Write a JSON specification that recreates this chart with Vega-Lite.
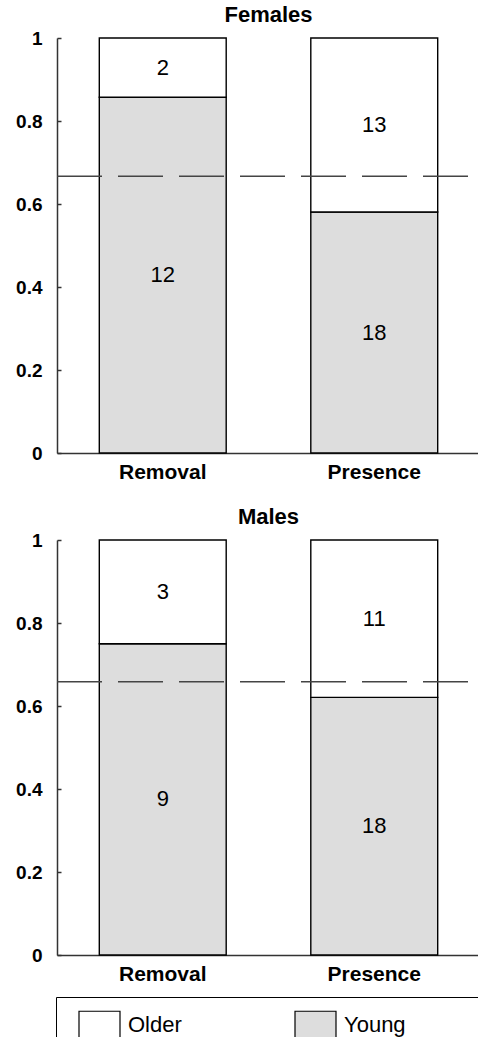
{
  "$schema": "https://vega.github.io/schema/vega-lite/v6.json",
  "padding": {"left": 15, "top": 4, "right": 0, "bottom": 0},
  "autosize": {"type": "pad"},
  "background": "white",
  "config": {
    "font": "Liberation Sans",
    "view": {"stroke": null},
    "concat": {"spacing": 24},
    "title": {"fontSize": 22, "fontWeight": "bold", "color": "black", "offset": 2, "anchor": "middle"},
    "axisY": {
      "grid": false,
      "title": null,
      "labelFont": "Liberation Sans",
      "labelFontSize": 19,
      "labelFontWeight": "bold",
      "labelColor": "black",
      "domainColor": "#333333",
      "domainWidth": 1.5,
      "tickColor": "#333333",
      "tickWidth": 1.5,
      "tickSize": -4,
      "labelPadding": 19
    },
    "axisX": {
      "title": null,
      "ticks": false,
      "labelAngle": 0,
      "labelFont": "Liberation Sans",
      "labelFontSize": 21,
      "labelFontWeight": "bold",
      "labelColor": "black",
      "domainColor": "#333333",
      "domainWidth": 1.5,
      "labelPadding": 8
    },
    "legend": {
      "orient": "none",
      "legendX": -1,
      "legendY": 959,
      "direction": "horizontal",
      "columns": 2,
      "strokeColor": "black",
      "padding": 6,
      "symbolType": "M-1,-0.66H1V0.66H-1Z",
      "symbolSize": 1681,
      "symbolStrokeColor": "black",
      "symbolStrokeWidth": 1.2,
      "symbolOpacity": 1,
      "symbolOffset": 16,
      "labelFontSize": 22,
      "labelColor": "black",
      "labelOffset": 7,
      "columnPadding": 96
    }
  },
  "datasets": {
    "counts": [
      {"sex": "Females", "treatment": "Removal", "age": "Young", "count": 12},
      {"sex": "Females", "treatment": "Removal", "age": "Older", "count": 2},
      {"sex": "Females", "treatment": "Presence", "age": "Young", "count": 18},
      {"sex": "Females", "treatment": "Presence", "age": "Older", "count": 13},
      {"sex": "Males", "treatment": "Removal", "age": "Young", "count": 9},
      {"sex": "Males", "treatment": "Removal", "age": "Older", "count": 3},
      {"sex": "Males", "treatment": "Presence", "age": "Young", "count": 18},
      {"sex": "Males", "treatment": "Presence", "age": "Older", "count": 11}
    ],
    "ref": [
      {"sex": "Females", "value": 0.6667},
      {"sex": "Males", "value": 0.6585}
    ]
  },
  "vconcat": [
    {
      "title": "Females",
      "width": 423,
      "height": 415,
      "data": {"name": "counts"},
      "transform": [
        {"filter": "datum.sex === 'Females'"},
        {"stack": "count", "groupby": ["treatment"], "sort": [{"field": "age", "order": "descending"}], "offset": "normalize", "as": ["y0", "y1"]},
        {"calculate": "(datum.y0 + datum.y1) / 2", "as": "mid"}
      ],
      "layer": [
        {
          "mark": {"type": "bar", "stroke": "black", "strokeWidth": 1.4},
          "encoding": {
            "x": {"field": "treatment", "type": "nominal", "sort": ["Removal", "Presence"], "scale": {"paddingInner": 0.4, "paddingOuter": 0.2}},
            "y": {"field": "y0", "type": "quantitative", "scale": {"domain": [0, 1]}, "axis": {"values": [0, 0.2, 0.4, 0.6, 0.8, 1], "format": ".1~f"}},
            "y2": {"field": "y1"},
            "color": {"field": "age", "type": "nominal", "scale": {"domain": ["Older", "Young"], "range": ["#ffffff", "#dddddd"]},
              "legend": {"title": "\u00a0", "titleOrient": "right", "titlePadding": 90, "titleFontSize": 22}}
          }
        },
        {
          "mark": {"type": "text", "fontSize": 22, "color": "black"},
          "encoding": {
            "x": {"field": "treatment", "type": "nominal", "sort": ["Removal", "Presence"]},
            "y": {"field": "mid", "type": "quantitative"},
            "text": {"field": "count"}
          }
        },
        {
          "data": {"name": "ref"},
          "transform": [{"filter": "datum.sex === 'Females'"}],
          "mark": {"type": "rule", "color": "#444444", "strokeWidth": 1.5, "strokeDash": [45, 16], "strokeDashOffset": 49},
          "encoding": {"y": {"field": "value", "type": "quantitative"}}
        }
      ]
    },
    {
      "title": "Males",
      "width": 423,
      "height": 415,
      "data": {"name": "counts"},
      "transform": [
        {"filter": "datum.sex === 'Males'"},
        {"stack": "count", "groupby": ["treatment"], "sort": [{"field": "age", "order": "descending"}], "offset": "normalize", "as": ["y0", "y1"]},
        {"calculate": "(datum.y0 + datum.y1) / 2", "as": "mid"}
      ],
      "layer": [
        {
          "mark": {"type": "bar", "stroke": "black", "strokeWidth": 1.4},
          "encoding": {
            "x": {"field": "treatment", "type": "nominal", "sort": ["Removal", "Presence"], "scale": {"paddingInner": 0.4, "paddingOuter": 0.2}},
            "y": {"field": "y0", "type": "quantitative", "scale": {"domain": [0, 1]}, "axis": {"values": [0, 0.2, 0.4, 0.6, 0.8, 1], "format": ".1~f"}},
            "y2": {"field": "y1"},
            "color": {"field": "age", "type": "nominal", "scale": {"domain": ["Older", "Young"], "range": ["#ffffff", "#dddddd"]}}
          }
        },
        {
          "mark": {"type": "text", "fontSize": 22, "color": "black"},
          "encoding": {
            "x": {"field": "treatment", "type": "nominal", "sort": ["Removal", "Presence"]},
            "y": {"field": "mid", "type": "quantitative"},
            "text": {"field": "count"}
          }
        },
        {
          "data": {"name": "ref"},
          "transform": [{"filter": "datum.sex === 'Males'"}],
          "mark": {"type": "rule", "color": "#444444", "strokeWidth": 1.5, "strokeDash": [45, 16], "strokeDashOffset": 49},
          "encoding": {"y": {"field": "value", "type": "quantitative"}}
        }
      ]
    }
  ],
  "resolve": {"scale": {"color": "shared"}}
}
